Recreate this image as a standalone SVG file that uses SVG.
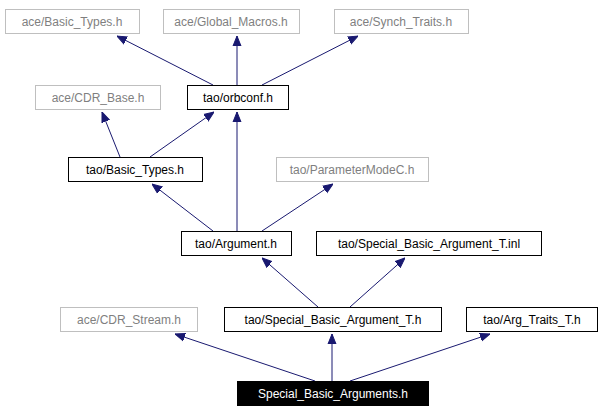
<svg xmlns="http://www.w3.org/2000/svg" width="604" height="413" viewBox="0 0 604 413">
<defs>
<style>
.n rect{fill:#fff;stroke:#000;stroke-width:1}
.g rect{stroke:#bfbfbf}
text{font-family:"Liberation Sans",Arial,sans-serif;font-size:12px;text-anchor:middle;fill:#000}
.g text{fill:#7f7f7f}
#n13 text{fill:#fff}
#c path{stroke:#191970;fill:none;stroke-width:1}
</style>
<marker id="a" viewBox="0 0 10 10" refX="10" refY="5" markerWidth="10" markerHeight="10" markerUnits="userSpaceOnUse" orient="auto"><path d="M0,1L10,5L0,9z" fill="#191970" stroke="#191970"/></marker>
</defs>
<rect width="604" height="413" fill="#fff"/>
<g id="c">
<path d="M213,85L117,36" marker-end="url(#a)"/>
<path d="M237,85L237,36" marker-end="url(#a)"/>
<path d="M262,85L358,36" marker-end="url(#a)"/>
<path d="M120,157L102,112" marker-end="url(#a)"/>
<path d="M150,157L214,112" marker-end="url(#a)"/>
<path d="M237,231L237,112" marker-end="url(#a)"/>
<path d="M213,231L152,184" marker-end="url(#a)"/>
<path d="M262,231L333,184" marker-end="url(#a)"/>
<path d="M318,307L262,258" marker-end="url(#a)"/>
<path d="M350,307L405,258" marker-end="url(#a)"/>
<path d="M315,381L175,334" marker-end="url(#a)"/>
<path d="M332,381L332,334" marker-end="url(#a)"/>
<path d="M350,381L490,334" marker-end="url(#a)"/>
</g>
<g id="n1" class="n g"><rect x="5.5" y="9.5" width="134" height="24"/><text x="72" y="26">ace/Basic_Types.h</text></g>
<g id="n2" class="n g"><rect x="163.5" y="9.5" width="136" height="24"/><text x="231" y="26">ace/Global_Macros.h</text></g>
<g id="n3" class="n g"><rect x="334.5" y="9.5" width="134" height="24"/><text x="401" y="26">ace/Synch_Traits.h</text></g>
<g id="n4" class="n g"><rect x="35.5" y="85.5" width="125" height="24"/><text x="98" y="102">ace/CDR_Base.h</text></g>
<g id="n5" class="n"><rect x="187.5" y="85.5" width="101" height="24"/><text x="238" y="102">tao/orbconf.h</text></g>
<g id="n6" class="n"><rect x="68.5" y="157.5" width="134" height="24"/><text x="135" y="174">tao/Basic_Types.h</text></g>
<g id="n7" class="n g"><rect x="276.5" y="157.5" width="152" height="24"/><text x="352" y="174">tao/ParameterModeC.h</text></g>
<g id="n8" class="n"><rect x="181.5" y="231.5" width="110" height="24"/><text x="236" y="248">tao/Argument.h</text></g>
<g id="n9" class="n"><rect x="316.5" y="231.5" width="225" height="24"/><text x="429" y="248">tao/Special_Basic_Argument_T.inl</text></g>
<g id="n10" class="n g"><rect x="60.5" y="307.5" width="137" height="24"/><text x="129" y="324">ace/CDR_Stream.h</text></g>
<g id="n11" class="n"><rect x="224.5" y="307.5" width="217" height="24"/><text x="333" y="324">tao/Special_Basic_Argument_T.h</text></g>
<g id="n12" class="n"><rect x="466.5" y="307.5" width="131" height="24"/><text x="532" y="324">tao/Arg_Traits_T.h</text></g>
<g id="n13"><rect x="237.5" y="381.5" width="191" height="24" fill="#000" stroke="#000"/><text x="333" y="398">Special_Basic_Arguments.h</text></g>
</svg>
